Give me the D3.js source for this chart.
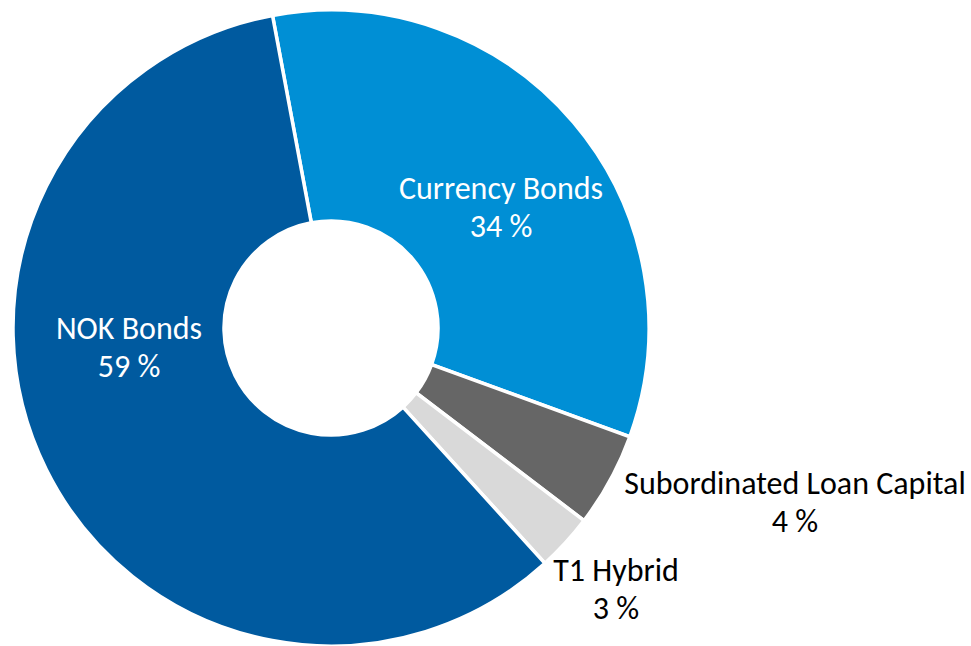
<!DOCTYPE html>
<html>
<head>
<meta charset="utf-8">
<script src="https://cdn.jsdelivr.net/npm/d3@7"></script>
<style>
  html,body{margin:0;padding:0;background:#fff;}
  svg{display:block;font-family:Carlito,Calibri,Lato,sans-serif;}
</style>
</head>
<body>
<svg id="chart"></svg>
<script>
// data
let categories=['Currency Bonds','Subordinated Loan Capital','T1 Hybrid','NOK Bonds'];
let shares=[33.5,4.8,2.9,58.8];
let shareLabels=['34 %','4 %','3 %','59 %'];
let colors=['#008fd5','#666666','#d9d9d9','#005a9f'];

let width=971;
let height=646;
let cx=331;
let cy=328;
let outerR=318;
let innerR=107;
let startDeg=-10.6;
let fontSize=32;
let lineGap=38;

// where each label block sits (centre of the two lines) and its colour
let labelLayout={
  'Currency Bonds':{x:501,y:218,fill:'#fff'},
  'Subordinated Loan Capital':{x:795,y:513,fill:'#000'},
  'T1 Hybrid':{x:616,y:600,fill:'#000'},
  'NOK Bonds':{x:129,y:358,fill:'#fff'}
};

const svg=d3.select('#chart')
  .attr('width',width)
  .attr('height',height);

let rows=categories.map((c,i)=>({name:c,value:shares[i],label:shareLabels[i],color:colors[i]}));

let start=startDeg*Math.PI/180;
let pie=d3.pie()
  .sort(null)
  .value(d=>d.value)
  .startAngle(start)
  .endAngle(start+2*Math.PI);

let arc=d3.arc()
  .innerRadius(innerR)
  .outerRadius(outerR);

let g=svg.append('g')
  .attr('transform','translate('+cx+','+cy+')');

g.selectAll('path')
  .data(pie(rows))
  .enter()
  .append('path')
  .attr('d',arc)
  .attr('fill',d=>d.data.color)
  .attr('stroke','#fff')
  .attr('stroke-width',3.5)
  .attr('stroke-linejoin','miter');

let labels=svg.selectAll('text.lbl')
  .data(rows)
  .enter()
  .append('text')
  .attr('class','lbl')
  .attr('text-anchor','middle')
  .attr('font-size',fontSize)
  .attr('fill',d=>labelLayout[d.name].fill);

labels.append('tspan')
  .attr('x',d=>labelLayout[d.name].x)
  .attr('y',d=>labelLayout[d.name].y-lineGap/2)
  .text(d=>d.name);

labels.append('tspan')
  .attr('x',d=>labelLayout[d.name].x)
  .attr('y',d=>labelLayout[d.name].y+lineGap/2)
  .text(d=>d.label);
</script>
</body>
</html>
